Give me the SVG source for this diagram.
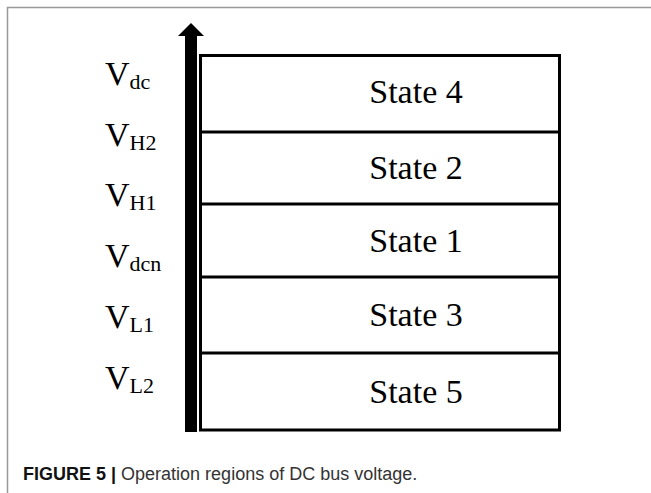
<svg xmlns="http://www.w3.org/2000/svg" width="651" height="493" viewBox="0 0 651 493">
<style>
.v{font-family:"Liberation Serif","Times New Roman",serif;font-size:34px;fill:#000}
.sub{font-size:22px}
.st{font-family:"Liberation Serif","Times New Roman",serif;font-size:34px;fill:#000;text-anchor:middle}
.box{fill:#fff;stroke:#000;stroke-width:3}
.div{stroke:#000;stroke-width:3}
.cap{font-family:"Liberation Sans",Arial,sans-serif;font-size:18px;fill:#333}
</style>
<rect x="0" y="0" width="651" height="493" fill="#fff"/>
<path d="M7.5 493 V7.5 H651" fill="none" stroke="#999" stroke-width="1.5"/>
<g id="connectors">
<rect x="185" y="35" width="12" height="397" fill="#000"/>
<polygon points="191,23 204,36 178,36" fill="#000"/>
</g>
<g id="table">
<rect class="box" x="200.5" y="55.5" width="359" height="374.5"/>
<line class="div" x1="200" y1="132" x2="560" y2="132"/>
<line class="div" x1="200" y1="204" x2="560" y2="204"/>
<line class="div" x1="200" y1="277" x2="560" y2="277"/>
<line class="div" x1="200" y1="353" x2="560" y2="353"/>
</g>
<g id="state4"><text class="st" x="416" y="103">State 4</text></g>
<g id="state2"><text class="st" x="416" y="179">State 2</text></g>
<g id="state1"><text class="st" x="416" y="252">State 1</text></g>
<g id="state3"><text class="st" x="416" y="326">State 3</text></g>
<g id="state5"><text class="st" x="416" y="403">State 5</text></g>
<g id="labels">
<text class="v" x="105" y="85">V<tspan class="sub" dy="4">dc</tspan></text>
<text class="v" x="105" y="146">V<tspan class="sub" dy="4">H2</tspan></text>
<text class="v" x="105" y="206">V<tspan class="sub" dy="4">H1</tspan></text>
<text class="v" x="105" y="267">V<tspan class="sub" dy="4">dcn</tspan></text>
<text class="v" x="105" y="328">V<tspan class="sub" dy="4">L1</tspan></text>
<text class="v" x="105" y="389">V<tspan class="sub" dy="4">L2</tspan></text>
</g>
<g id="caption">
<text class="cap" x="23" y="480"><tspan font-weight="bold" fill="#111">FIGURE 5 | </tspan>Operation regions of DC bus voltage.</text>
</g>
</svg>
